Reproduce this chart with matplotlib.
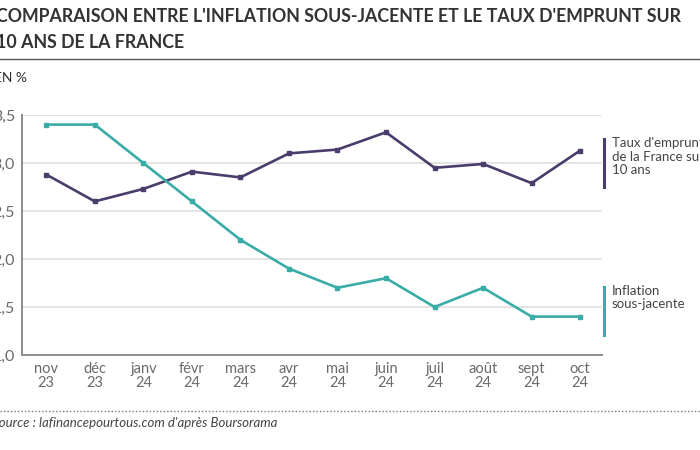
import matplotlib.pyplot as plt
from matplotlib.lines import Line2D

plt.rcParams['font.family'] = ['Lato', 'DejaVu Sans']

mois = ["nov\n23", "déc\n23", "janv\n24", "févr\n24", "mars\n24", "avr\n24",
        "mai\n24", "juin\n24", "juil\n24", "août\n24", "sept\n24", "oct\n24"]
inflation = [3.4, 3.4, 3.0, 2.6, 2.2, 1.9, 1.7, 1.8, 1.5, 1.7, 1.4, 1.4]
taux_10ans = [2.88, 2.60, 2.73, 2.91, 2.85, 3.10, 3.14, 3.32, 2.95, 2.99, 2.79, 3.13]
yticks = [1.0, 1.5, 2.0, 2.5, 3.0, 3.5]
ylabels = ["1,0", "1,5", "2,0", "2,5", "3,0", "3,5"]

teal = "#3aaca7"
violet = "#4a3d6c"
gris = "#8c8c8c"

fig = plt.figure(figsize=(7, 4.5), dpi=100)
ax = fig.add_axes([22 / 700, 1 - 355 / 450, 580 / 700, 240 / 450])

x = list(range(len(mois)))
ax.plot(x, taux_10ans, color=violet, lw=1.9, marker="s", ms=3.5, zorder=3)
ax.plot(x, inflation, color=teal, lw=1.9, marker="s", ms=3.5, zorder=3)

ax.set_xlim(-0.5, 11.45)
ax.set_ylim(1.0, 3.5)
ax.set_yticks(yticks)
ax.set_yticklabels(ylabels)
ax.set_xticks(x)
ax.set_xticklabels(mois, linespacing=1.05)
ax.grid(axis="y", color="#dcdcdc", lw=1.1, zorder=0)
ax.set_axisbelow(True)
for s in ["top", "right"]:
    ax.spines[s].set_visible(False)
for s in ["left", "bottom"]:
    ax.spines[s].set_color(gris)
    ax.spines[s].set_linewidth(1.4)
ax.tick_params(axis="both", length=0, colors="#6a6a6a", labelsize=10.5)
ax.tick_params(axis="x", pad=5)
ax.tick_params(axis="y", pad=5, labelsize=11.5)

# titre
fig.text(-0.006, 1 - 16 / 450, "COMPARAISON ENTRE L'INFLATION SOUS-JACENTE ET LE TAUX D'EMPRUNT SUR",
         fontsize=12.8, fontweight="bold", color="#333333", va="center")
fig.text(-0.006, 1 - 43 / 450, "10 ANS DE LA FRANCE",
         fontsize=12.8, fontweight="bold", color="#333333", va="center")
fig.add_artist(Line2D([0, 1], [1 - 59 / 450] * 2, color="#555555", lw=1.0))
fig.text(-0.008, 1 - 78 / 450, "EN %", fontsize=10, color="#333333", va="center")

# annotations des séries
fig.add_artist(Line2D([604 / 700] * 2, [1 - 139 / 450, 1 - 187 / 450], color=violet, lw=2.2))
fig.text(612 / 700, 1 - 137 / 450, "Taux d'emprunt\nde la France sur\n10 ans",
         fontsize=9.5, color="#444444", va="top", linespacing=1.15)
fig.add_artist(Line2D([604 / 700] * 2, [1 - 287 / 450, 1 - 335 / 450], color=teal, lw=2.2))
fig.text(612 / 700, 1 - 285 / 450, "Inflation\nsous-jacente",
         fontsize=9.5, color="#444444", va="top", linespacing=1.15)

# source
fig.add_artist(Line2D([0, 1], [1 - 411 / 450] * 2, color="#777777", lw=1.0, ls=(0, (1, 1.5))))
fig.text(-0.012, 1 - 423 / 450, "Source : lafinancepourtous.com d'après Boursorama",
         fontsize=9.5, style="italic", color="#444444", va="center")

fig.savefig("out.png", dpi=100)
